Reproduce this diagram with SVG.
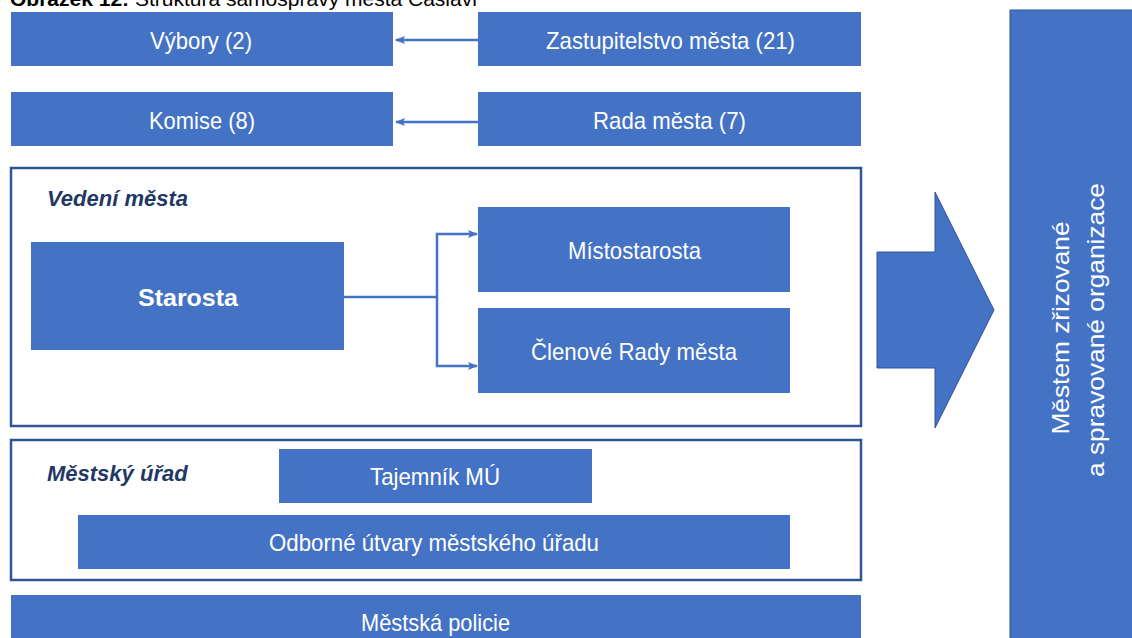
<svg xmlns="http://www.w3.org/2000/svg" width="1132" height="638" viewBox="0 0 1132 638">
<defs>
<style>
.box{fill:#4472C4;}
.lbl{fill:#fff;font-family:"Liberation Sans",Arial,sans-serif;font-size:24px;text-anchor:middle;}
.frame{fill:none;stroke:#2F5597;stroke-width:2.5;}
.sec{fill:#1F3864;font-family:"Liberation Sans",Arial,sans-serif;font-size:22px;font-weight:bold;font-style:italic;}
.con{fill:none;stroke:#4472C4;stroke-width:2.5;}
</style>
<marker id="ah" markerWidth="10" markerHeight="8" refX="9" refY="4" orient="auto" markerUnits="userSpaceOnUse">
<path d="M0,0 L10,4 L0,8 L2,4 Z" fill="#4472C4"/>
</marker>
</defs>
<rect width="1132" height="638" fill="#fff"/>
<text x="10" y="6" font-family="&quot;Liberation Sans&quot;,Arial,sans-serif" font-size="21" fill="#000"><tspan font-weight="bold">Obrázek 12:</tspan> Struktura samosprávy města Čáslavi</text>

<g id="frame-vedeni"><rect class="frame" x="11" y="168" width="850" height="258"/><text class="sec" x="47" y="206">Vedení města</text></g>
<g id="frame-urad"><rect class="frame" x="11" y="440" width="850" height="140"/><text class="sec" x="47" y="481">Městský úřad</text></g>

<g id="vybory"><rect class="box" x="11" y="12" width="382" height="54"/><text class="lbl" x="201" y="48.5" textLength="102" lengthAdjust="spacingAndGlyphs">Výbory (2)</text></g>
<g id="zastupitelstvo"><rect class="box" x="478" y="12" width="383" height="54"/><text class="lbl" x="670.5" y="48.5" textLength="249" lengthAdjust="spacingAndGlyphs">Zastupitelstvo města (21)</text></g>
<g id="komise"><rect class="box" x="11" y="92" width="382" height="54"/><text class="lbl" x="202" y="128.5" textLength="106" lengthAdjust="spacingAndGlyphs">Komise (8)</text></g>
<g id="rada"><rect class="box" x="478" y="92" width="383" height="54"/><text class="lbl" x="669.5" y="128.5" textLength="153" lengthAdjust="spacingAndGlyphs">Rada města (7)</text></g>
<g id="starosta"><rect class="box" x="31" y="242" width="313" height="108"/><text class="lbl" x="188" y="306" font-weight="bold" font-size="28" textLength="100" lengthAdjust="spacingAndGlyphs">Starosta</text></g>
<g id="mistostarosta"><rect class="box" x="478" y="207" width="312" height="85"/><text class="lbl" x="634.5" y="258.5" textLength="133" lengthAdjust="spacingAndGlyphs">Místostarosta</text></g>
<g id="clenove"><rect class="box" x="478" y="308" width="312" height="85"/><text class="lbl" x="634" y="359.5" textLength="206" lengthAdjust="spacingAndGlyphs">Členové Rady města</text></g>
<g id="tajemnik"><rect class="box" x="279" y="449" width="313" height="54"/><text class="lbl" x="435" y="485" textLength="130" lengthAdjust="spacingAndGlyphs">Tajemník MÚ</text></g>
<g id="odborne"><rect class="box" x="78" y="515" width="712" height="54"/><text class="lbl" x="434" y="551" textLength="330" lengthAdjust="spacingAndGlyphs">Odborné útvary městského úřadu</text></g>
<g id="policie"><rect class="box" x="11" y="595" width="850" height="50"/><text class="lbl" x="435.5" y="630.5" textLength="149" lengthAdjust="spacingAndGlyphs">Městská policie</text></g>
<g id="organizace"><rect class="box" x="1010" y="10" width="130" height="640" stroke="#2F5597" stroke-width="1"/>
<text class="lbl" font-size="33" transform="translate(1069,328) rotate(-90)" x="0" y="0" textLength="213" lengthAdjust="spacingAndGlyphs">Městem zřizované</text>
<text class="lbl" font-size="33" transform="translate(1104,330) rotate(-90)" x="0" y="0" textLength="294" lengthAdjust="spacingAndGlyphs">a spravované organizace</text>
</g>
<g id="bigarrow"><path d="M877,252 L935,252 L935,192 L994,310 L935,428 L935,368 L877,368 Z" fill="#4472C4" stroke="#2F5597" stroke-width="1"/></g>

<g id="connectors">
<line class="con" x1="478" y1="40" x2="396" y2="40" marker-end="url(#ah)"/>
<line class="con" x1="478" y1="122" x2="396" y2="122" marker-end="url(#ah)"/>
<path class="con" d="M344,297 L437,297"/>
<path class="con" d="M437,297 L437,234 L477,234" marker-end="url(#ah)"/>
<path class="con" d="M437,297 L437,366 L477,366" marker-end="url(#ah)"/>
</g>
</svg>
